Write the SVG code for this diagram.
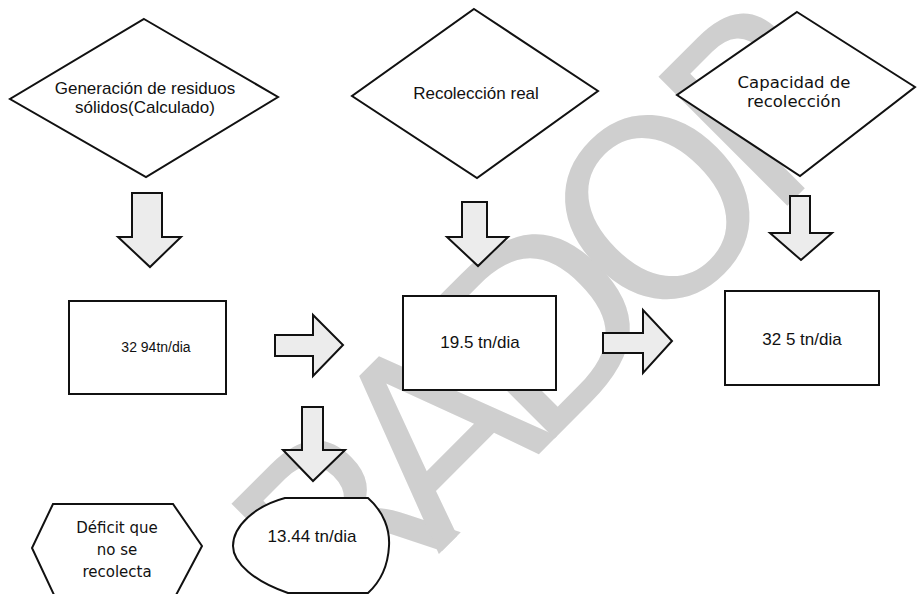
<svg xmlns="http://www.w3.org/2000/svg" width="917" height="594" viewBox="0 0 917 594">
<style>
.shape{fill:#ffffff;stroke:#111111;stroke-width:2;stroke-linejoin:miter}
.arrow{fill:#ececec;stroke:#111111;stroke-width:2;stroke-linejoin:miter}
.t{font-family:"Liberation Sans",Arial,sans-serif;font-size:17px;fill:#111111;text-anchor:middle}
.v{font-family:"DejaVu Sans",Verdana,sans-serif;font-size:15px;fill:#111111;text-anchor:middle}
.wm{font-family:"DejaVu Sans",sans-serif;font-size:250px;fill:#cfcfcf;letter-spacing:-30px}
</style>
<rect x="0" y="0" width="917" height="594" fill="#ffffff"/>
<g id="watermark">
<text class="wm" transform="translate(343,650) rotate(-45)" x="0" y="0">RADOR</text>
</g>
<g id="connectors">
<polygon class="arrow" points="132,193 162,193 162,237 181,237 150,267 118,237 132,237"/>
<polygon class="arrow" points="275,335 313,335 313,315 343,345 313,376 313,356 275,356"/>
<polygon class="arrow" points="462,202 487,202 487,237 508,237 478,266 447,237 462,237"/>
<polygon class="arrow" points="603,333 643,333 643,310 672,341 643,373 643,353 603,353"/>
<polygon class="arrow" points="790,196 810,196 810,233 832,233 801,260 770,233 790,233"/>
<polygon class="arrow" points="302,407 323,407 323,450 345,450 313,481 283,450 302,450"/>
</g>
<g id="generacion">
<polygon class="shape" points="144,19 278,97 146,177 10,99"/>
<text class="t" x="145" y="94">Generación de residuos</text>
<text class="t" x="145" y="113">sólidos(Calculado)</text>
</g>
<g id="recoleccion-real">
<polygon class="shape" points="474,9 598,91 477,178 352,96"/>
<text class="t" x="476" y="99">Recolección real</text>
</g>
<g id="capacidad">
<polygon class="shape" points="797,12 915,87 800,176 677,95"/>
<text class="v" x="794" y="88" style="font-size:16.5px">Capacidad de</text>
<text class="v" x="794" y="107" style="font-size:16.5px">recolección</text>
</g>
<g id="box-generacion">
<rect class="shape" x="69" y="301" width="157" height="93"/>
<text class="t" x="156" y="352" style="font-size:14px">32 94tn/dia</text>
</g>
<g id="box-recoleccion">
<rect class="shape" x="403" y="296" width="153" height="94"/>
<text class="t" x="480" y="348">19.5 tn/dia</text>
</g>
<g id="box-capacidad">
<rect class="shape" x="725" y="291" width="154" height="94"/>
<text class="t" x="802" y="345">32 5 tn/dia</text>
</g>
<g id="deficit">
<polygon class="shape" points="53,504 173,504 202,546 175,597 55,597 32,548"/>
<text class="v" x="117" y="533">Déficit que</text>
<text class="v" x="117" y="555">no se</text>
<text class="v" x="117" y="577">recolecta</text>
</g>
<g id="deficit-valor">
<path class="shape" d="M285,498 L368,498 C384,512 390,530 389,546 C388,566 380,582 368,593 L288,593 C255,582 233,563 233,546 C233,526 255,506 285,498 Z"/>
<text class="t" x="312" y="542">13.44 tn/dia</text>
</g>
</svg>
